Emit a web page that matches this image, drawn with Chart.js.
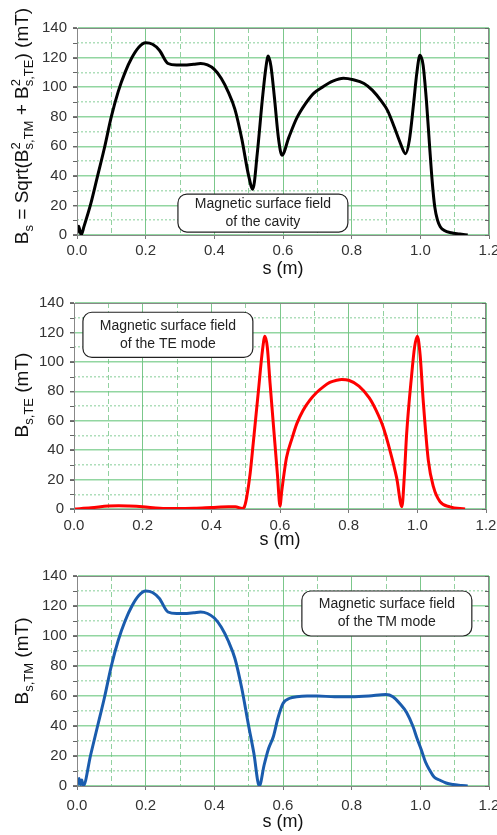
<!DOCTYPE html>
<html>
<head>
<meta charset="utf-8">
<script src="https://cdn.jsdelivr.net/npm/chart.js@4.4.0/dist/chart.umd.min.js"></script>
<style>
  html, body { margin: 0; padding: 0; background: #fff; overflow: hidden; width: 497px; height: 835px; }
  canvas { position: absolute; left: 0; }
</style>
</head>
<body>
<canvas id="cavity" width="510" height="280" style="top:0"></canvas>
<canvas id="te" width="510" height="275" style="top:280px"></canvas>
<canvas id="tm" width="510" height="280" style="top:555px"></canvas>
<script>
// --- DATA ---
const sCavity = [0, 0.005, 0.012, 0.02, 0.04, 0.06, 0.08, 0.10, 0.12, 0.14, 0.16, 0.18, 0.20, 0.22, 0.24, 0.265, 0.29,
  0.31, 0.34, 0.36, 0.38, 0.40, 0.42, 0.44, 0.46, 0.48, 0.50, 0.512, 0.525, 0.54, 0.55, 0.557, 0.565, 0.575, 0.587, 0.597,
  0.617, 0.64, 0.666, 0.69, 0.715, 0.745, 0.776, 0.805, 0.836, 0.86, 0.885, 0.905, 0.924, 0.942, 0.957, 0.968, 0.98, 0.99,
  0.999, 1.008, 1.018, 1.027, 1.035, 1.042, 1.05, 1.058, 1.07, 1.09, 1.115, 1.138];
const bCavity = [1, 6, 0, 5.5, 21, 40, 59, 80, 97, 110, 120, 127, 130, 129, 125, 116, 115,
  115, 115.5, 116, 115, 112, 106, 97, 85, 65, 40, 31, 55, 92, 113, 121, 114, 93, 65, 54,
  66, 79, 89, 96, 100, 104, 106, 105, 102.5, 98, 91, 84, 73, 62, 55, 64, 88, 110,
  121.5, 115, 90, 60, 35, 19, 10, 5.6, 3, 1.5, 0.7, 0];

const sTE = [0, 0.05, 0.1, 0.13, 0.16, 0.2, 0.25, 0.3, 0.35, 0.4, 0.45, 0.47, 0.49, 0.497, 0.503, 0.513, 0.522, 0.537,
  0.549, 0.556, 0.563, 0.571, 0.585, 0.593, 0.6, 0.605, 0.619, 0.635, 0.649, 0.667, 0.687, 0.706, 0.726, 0.745, 0.765,
  0.78, 0.80, 0.83, 0.86, 0.88, 0.90, 0.92, 0.94, 0.955, 0.962, 0.969, 0.983, 0.992, 1.0, 1.008, 1.017, 1.032, 1.047,
  1.066, 1.095, 1.139];
const bTE = [0, 0.8, 2, 2.2, 2, 1.5, 0.5, 0.3, 0.5, 1, 1.5, 1.5, 0.3, 2, 8, 24, 44.6, 80,
  108, 117.4, 110, 85.5, 45, 22, 2, 12, 35, 48, 58, 67, 74, 79, 83, 86, 87.5,
  88, 87.5, 83.5, 75.5, 67, 56, 40, 21, 1.5, 22, 51.5, 90, 110, 117.4, 105, 74, 33, 15,
  5, 1.4, 0];

const sTM = [0, 0.006, 0.01, 0.014, 0.018, 0.04, 0.06, 0.08, 0.10, 0.12, 0.14, 0.16, 0.18, 0.20, 0.22, 0.24, 0.265, 0.29,
  0.31, 0.34, 0.36, 0.38, 0.40, 0.42, 0.44, 0.46, 0.48, 0.50, 0.515, 0.531, 0.545, 0.558, 0.572, 0.585, 0.6, 0.62, 0.64,
  0.67, 0.7, 0.75, 0.8, 0.85, 0.9, 0.92, 0.94, 0.96, 0.979, 0.99, 1.003, 1.015, 1.027, 1.04, 1.056, 1.075, 1.095, 1.12, 1.138];
const bTM = [0, 5, 1, 4, 0, 21, 40, 59, 80, 97, 110, 120, 127, 130, 129, 125, 116, 115,
  115, 115.5, 116, 115, 112, 106, 97, 85, 65, 40, 22, 0, 14, 25, 33, 45, 55, 58.5, 59.5,
  60, 60, 59.5, 59.5, 60, 61, 59.5, 55, 49, 39.5, 32, 24, 16, 10.7, 6, 4, 2, 1, 0.4, 0];

// axis titles (rich text: sub/superscripts)
const titleCavity = [{ t: 'B', sub: 's' }, { t: ' = Sqrt(' }, { t: 'B', sup: '2', sub: 's,TM' }, { t: ' + ' },
  { t: 'B', sup: '2', sub: 's,TE' }, { t: ') (mT)' }];
const titleTE = [{ t: 'B', sub: 's,TE' }, { t: ' (mT)' }];
const titleTM = [{ t: 'B', sub: 's,TM' }, { t: ' (mT)' }];

// note boxes: [s0, B0, s1, B1] in data units + text lines
const noteCavity = { box: [0.294, 27.7, 0.789, 2], lines: ['Magnetic surface field', 'of the cavity'] };
const noteTE = { box: [0.026, 133.7, 0.521, 103], lines: ['Magnetic surface field', 'of the TE mode'] };
const noteTM = { box: [0.655, 130, 1.15, 100], lines: ['Magnetic surface field', 'of the TM mode'] };

const FAMILY = "'Liberation Sans', Arial, sans-serif";
const majorH = 'rgba(110,200,130,0.75)';
const majorV = 'rgba(90,185,110,0.8)';
const minorH = 'rgba(120,200,140,0.6)';
const minorV = 'rgba(100,190,120,0.7)';

// --- DRAWING HELPERS ---
function drawRich(ctx, parts, cx, cy) {
  const big = '19px ' + FAMILY;
  const small = '13px ' + FAMILY;
  const widths = parts.map(p => {
    ctx.font = big;
    const w = ctx.measureText(p.t).width;
    ctx.font = small;
    const a = p.sub ? ctx.measureText(p.sub).width : 0;
    const b = p.sup ? ctx.measureText(p.sup).width : 0;
    return w + Math.max(a, b);
  });
  const total = widths.reduce((a, b) => a + b, 0);
  ctx.save();
  ctx.translate(cx, cy);
  ctx.rotate(-Math.PI / 2);
  ctx.fillStyle = '#111';
  ctx.textAlign = 'left';
  ctx.textBaseline = 'alphabetic';
  let x = -total / 2;
  parts.forEach((p, i) => {
    ctx.font = big;
    ctx.fillText(p.t, x, 0);
    const w = ctx.measureText(p.t).width;
    ctx.font = small;
    if (p.sup) ctx.fillText(p.sup, x + w, -8);
    if (p.sub) ctx.fillText(p.sub, x + w, 5);
    x += widths[i];
  });
  ctx.restore();
}

function drawNote(ctx, chart, note) {
  const xs = chart.scales.x, ys = chart.scales.y;
  const l = xs.getPixelForValue(note.box[0]), r = xs.getPixelForValue(note.box[2]);
  const t = ys.getPixelForValue(note.box[1]), b = ys.getPixelForValue(note.box[3]);
  ctx.save();
  ctx.beginPath();
  ctx.roundRect(l, t, r - l, b - t, 9);
  ctx.fillStyle = '#fff';
  ctx.fill();
  ctx.lineWidth = 1.2;
  ctx.strokeStyle = '#222';
  ctx.stroke();
  ctx.fillStyle = '#222';
  ctx.font = '14px ' + FAMILY;
  ctx.textAlign = 'center';
  ctx.textBaseline = 'middle';
  const cx = (l + r) / 2, cy = (t + b) / 2;
  ctx.fillText(note.lines[0], cx, cy - 9);
  ctx.fillText(note.lines[1], cx, cy + 9);
  ctx.restore();
}

const decorPlugin = {
  id: 'decor',
  afterDraw(chart, args, opts) {
    const ctx = chart.ctx;
    const a = chart.chartArea;
    ctx.save();
    // plot frame
    ctx.strokeStyle = '#888';
    ctx.lineWidth = 1;
    ctx.strokeRect(a.left + 0.5, a.top + 0.5, a.right - a.left - 1, a.bottom - a.top);
    // small ticks at every 10 mT: outward on the left, inward on the right
    const ym = chart.scales.ym;
    ctx.strokeStyle = '#666';
    ym.ticks.forEach(t => {
      const y = Math.round(ym.getPixelForValue(t.value)) + 0.5;
      ctx.beginPath();
      ctx.moveTo(a.right - 4, y);
      ctx.lineTo(a.right, y);
      ctx.moveTo(a.left - 4, y);
      ctx.lineTo(a.left, y);
      ctx.stroke();
    });
    ctx.restore();
    drawNote(ctx, chart, opts.note);
    drawRich(ctx, opts.title, opts.titleX, opts.titleY);
  }
};

const isOdd = v => Math.round(v * 10) % 2 === 1;
const isOddY = v => Math.round(v / 10) % 2 === 1;

function buildChart(id, xs, ys, color, frame, title, note) {
  const points = xs.map((s, i) => ({ x: s, y: ys[i] }));
  return new Chart(document.getElementById(id), {
    type: 'line',
    data: {
      datasets: [{
        data: points,
        borderColor: color,
        borderWidth: 3,
        pointRadius: 0,
        cubicInterpolationMode: 'monotone',
        fill: false,
        xAxisID: 'x',
        yAxisID: 'y'
      }]
    },
    options: {
      responsive: false,
      animation: false,
      events: [],
      layout: { padding: { top: frame.top, right: frame.right, left: 0, bottom: 0 } },
      plugins: {
        legend: { display: false },
        tooltip: { enabled: false },
        decor: { note: note, title: title, titleX: frame.titleX, titleY: frame.titleY }
      },
      scales: {
        xm: {
          type: 'linear', position: 'top', min: 0, max: 1.2,
          ticks: { stepSize: 0.1, display: false },
          grid: { color: c => (isOdd(c.tick.value) ? minorV : 'transparent'), drawTicks: false },
          border: { display: false, dash: [5, 3] },
          afterFit: s => { s.height = 0; }
        },
        ym: {
          type: 'linear', position: 'right', min: 0, max: 140,
          ticks: { stepSize: 10, display: false },
          grid: { color: c => (isOddY(c.tick.value) ? minorH : 'transparent'), drawTicks: false, lineWidth: 1.5 },
          border: { display: false, dash: [2, 2] },
          afterFit: s => { s.width = 0; }
        },
        x: {
          type: 'linear', position: 'bottom', min: 0, max: 1.2,
          ticks: {
            stepSize: 0.2, autoSkip: false, maxRotation: 0, padding: frame.tickPad,
            color: '#333', font: { family: FAMILY, size: 15 },
            callback: v => v.toFixed(1)
          },
          grid: { color: majorV, tickColor: '#777', tickLength: 4 },
          border: { color: '#888' },
          title: {
            display: true, text: 's (m)', color: '#111',
            font: { family: FAMILY, size: 18 }, padding: { top: 0, bottom: frame.titlePad }
          },
          afterFit: s => { s.height = frame.xh; }
        },
        y: {
          type: 'linear', position: 'left', min: 0, max: 140,
          ticks: { stepSize: 20, padding: 6, color: '#333', font: { family: FAMILY, size: 15 } },
          grid: { color: majorH, tickColor: '#777', tickLength: 4, lineWidth: 1.5 },
          border: { color: '#888' },
          afterFit: s => { s.width = frame.left; }
        }
      }
    },
    plugins: [decorPlugin]
  });
}

buildChart('cavity', sCavity, bCavity, '#000000',
  { top: 28, right: 21, left: 77, xh: 45, tickPad: 3, titlePad: 0, titleX: 28, titleY: 126 },
  titleCavity, noteCavity);
buildChart('te', sTE, bTE, '#ff0000',
  { top: 23, right: 24, left: 74, xh: 46, tickPad: 4, titlePad: 4, titleX: 28, titleY: 115 },
  titleTE, noteTE);
buildChart('tm', sTM, bTM, '#1a5cad',
  { top: 21, right: 21, left: 77, xh: 49, tickPad: 7, titlePad: 2, titleX: 28, titleY: 106 },
  titleTM, noteTM);
</script>
</body>
</html>
